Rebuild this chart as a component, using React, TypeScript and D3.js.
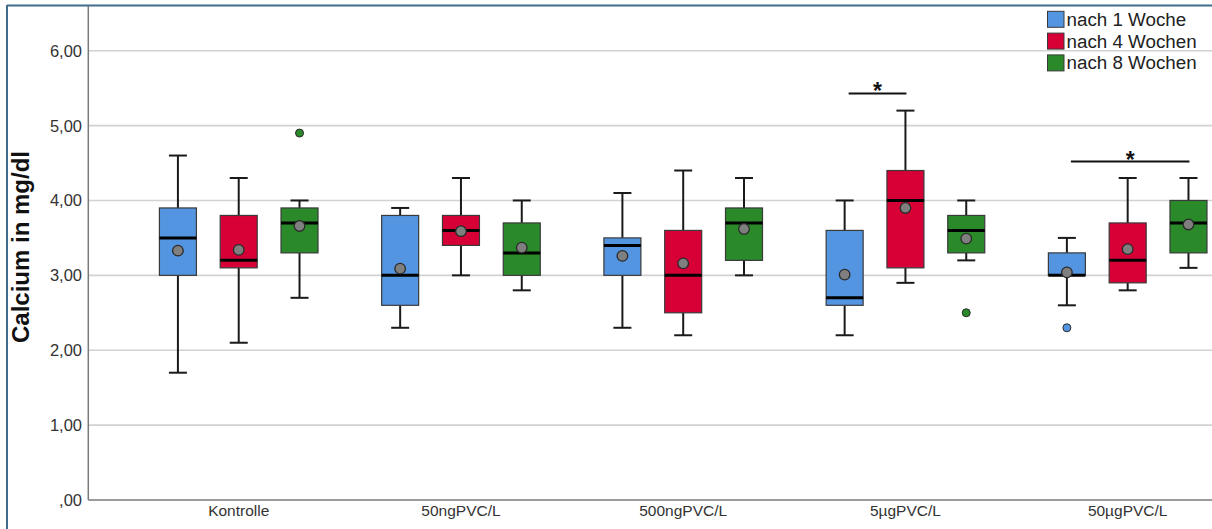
import React from "react";
import * as d3 from "d3";

const categories = ["Kontrolle", "50ngPVC/L", "500ngPVC/L", "5µgPVC/L", "50µgPVC/L"];
const series = ["nach 1 Woche", "nach 4 Wochen", "nach 8 Wochen"];
const seriesColors = ["#5495E1", "#D70036", "#2A8A2A"];
const yTicks = [0, 1, 2, 3, 4, 5, 6];

// per series (rows) x category (columns)
const whiskerLow = [
  [1.7, 2.3, 2.3, 2.2, 2.6],
  [2.1, 3.0, 2.2, 2.9, 2.8],
  [2.7, 2.8, 3.0, 3.2, 3.1],
];
const quartile1 = [
  [3.0, 2.6, 3.0, 2.6, 3.0],
  [3.1, 3.4, 2.5, 3.1, 2.9],
  [3.3, 3.0, 3.2, 3.3, 3.3],
];
const medians = [
  [3.5, 3.0, 3.4, 2.7, 3.0],
  [3.2, 3.6, 3.0, 4.0, 3.2],
  [3.7, 3.3, 3.7, 3.6, 3.7],
];
const quartile3 = [
  [3.9, 3.8, 3.5, 3.6, 3.3],
  [3.8, 3.8, 3.6, 4.4, 3.7],
  [3.9, 3.7, 3.9, 3.8, 4.0],
];
const whiskerHigh = [
  [4.6, 3.9, 4.1, 4.0, 3.5],
  [4.3, 4.3, 4.4, 5.2, 4.3],
  [4.0, 4.0, 4.3, 4.0, 4.3],
];
const means = [
  [3.33, 3.09, 3.26, 3.01, 3.04],
  [3.34, 3.59, 3.16, 3.9, 3.35],
  [3.66, 3.37, 3.62, 3.49, 3.68],
];

const outlierSeries = [2, 2, 0];
const outlierCategory = ["Kontrolle", "5µgPVC/L", "50µgPVC/L"];
const outlierValue = [4.9, 2.5, 2.3];

const sigCategory = ["5µgPVC/L", "50µgPVC/L"];
const sigFrom = [0, 0];
const sigTo = [1, 2];
const sigLevel = [5.43, 4.52];

export default function App() {
  const W = 1212;
  const H = 529;
  const axisX = 88.3;
  const axisY = 500;

  const y = d3.scaleLinear().domain([0, 6]).range([500, 50.7]);
  const x = d3.scaleBand<string>().domain(categories).range([127.6, 1238.8]).padding(0);
  const sub = d3.scalePoint<number>().domain([0, 1, 2]).range([-60.8, 60.8]);
  const boxW = 37;
  const capW = 18;
  const cx = (cat: string, s: number) => (x(cat) as number) + x.bandwidth() / 2 + (sub(s) as number);

  return (
    <svg
      width={W}
      height={H}
      style={{ position: "absolute", left: 0, top: 0, display: "block", background: "#fff" }}
      fontFamily="'Liberation Sans', Arial, sans-serif"
    >
      <rect x={0} y={0} width={W} height={H} fill="#fff" />
      {/* frame */}
      <line x1={7} y1={5.5} x2={W} y2={5.5} stroke="#3E6C8A" strokeWidth={2} />
      <line x1={7} y1={5} x2={7} y2={H} stroke="#3E6C8A" strokeWidth={2} />

      {/* gridlines */}
      {yTicks.filter((t) => t > 0).map((t) => (
        <line key={"g" + t} x1={axisX} x2={W} y1={y(t)} y2={y(t)} stroke="#D2D2D2" strokeWidth={1.6} />
      ))}

      {/* axes */}
      <line x1={axisX} x2={axisX} y1={6} y2={axisY} stroke="#7A7A7A" strokeWidth={1.5} />
      <line x1={axisX} x2={W} y1={axisY} y2={axisY} stroke="#7A7A7A" strokeWidth={1.5} />

      {/* y tick labels */}
      {yTicks.map((t) => (
        <text
          key={"t" + t}
          x={82}
          y={y(t) + 6}
          textAnchor="end"
          fontSize={16.5}
          fill="#333"
        >
          {t === 0 ? ",00" : d3.format(".2f")(t).replace(".", ",")}
        </text>
      ))}

      {/* y title */}
      <text
        transform={`translate(29,247) rotate(-90)`}
        textAnchor="middle"
        fontSize={24}
        fontWeight="bold"
        fill="#111"
      >
        Calcium in mg/dl
      </text>

      {/* x labels */}
      {categories.map((c) => (
        <text
          key={"x" + c}
          x={(x(c) as number) + x.bandwidth() / 2}
          y={516}
          textAnchor="middle"
          fontSize={15.5}
          fill="#333"
        >
          {c}
        </text>
      ))}

      {/* boxes */}
      {series.map((sName, s) =>
        categories.map((c, i) => {
          const px = cx(c, s);
          return (
            <g key={sName + c}>
              <line x1={px} x2={px} y1={y(whiskerHigh[s][i])} y2={y(quartile3[s][i])} stroke="#1a1a1a" strokeWidth={2} />
              <line x1={px} x2={px} y1={y(quartile1[s][i])} y2={y(whiskerLow[s][i])} stroke="#1a1a1a" strokeWidth={2} />
              <line x1={px - capW / 2} x2={px + capW / 2} y1={y(whiskerHigh[s][i])} y2={y(whiskerHigh[s][i])} stroke="#1a1a1a" strokeWidth={2} />
              <line x1={px - capW / 2} x2={px + capW / 2} y1={y(whiskerLow[s][i])} y2={y(whiskerLow[s][i])} stroke="#1a1a1a" strokeWidth={2} />
              <rect
                x={px - boxW / 2}
                y={y(quartile3[s][i])}
                width={boxW}
                height={y(quartile1[s][i]) - y(quartile3[s][i])}
                fill={seriesColors[s]}
                stroke="#3a3a3a"
                strokeWidth={1.2}
              />
              <line x1={px - boxW / 2} x2={px + boxW / 2} y1={y(medians[s][i])} y2={y(medians[s][i])} stroke="#000" strokeWidth={3} />
              <circle cx={px} cy={y(means[s][i])} r={5.3} fill="#7F7F7F" stroke="#2a2a2a" strokeWidth={1.3} />
            </g>
          );
        })
      )}

      {/* outliers */}
      {outlierValue.map((v, k) => (
        <circle
          key={"o" + k}
          cx={cx(outlierCategory[k], outlierSeries[k])}
          cy={y(v)}
          r={4}
          fill={seriesColors[outlierSeries[k]]}
          stroke="#2a2a2a"
          strokeWidth={1}
        />
      ))}

      {/* significance */}
      {sigCategory.map((c, k) => {
        const x1 = cx(c, sigFrom[k]) + 4;
        const x2 = cx(c, sigTo[k]) + 1;
        const yy = y(sigLevel[k]);
        return (
          <g key={"s" + k}>
            <line x1={x1} x2={x2} y1={yy} y2={yy} stroke="#111" strokeWidth={2} />
            <text x={(x1 + x2) / 2} y={yy + 6} textAnchor="middle" fontSize={23} fontWeight="bold" fill="#111">
              *
            </text>
          </g>
        );
      })}

      {/* legend */}
      {series.map((sName, s) => {
        const cy = 19.3 + s * 21.8;
        return (
          <g key={"l" + s}>
            <rect x={1047.5} y={cy - 8} width={16.5} height={16} fill={seriesColors[s]} stroke="#3a3a3a" strokeWidth={1} />
            <text x={1066.5} y={cy + 6.5} fontSize={18.8} fill="#222">
              {sName}
            </text>
          </g>
        );
      })}
    </svg>
  );
}
